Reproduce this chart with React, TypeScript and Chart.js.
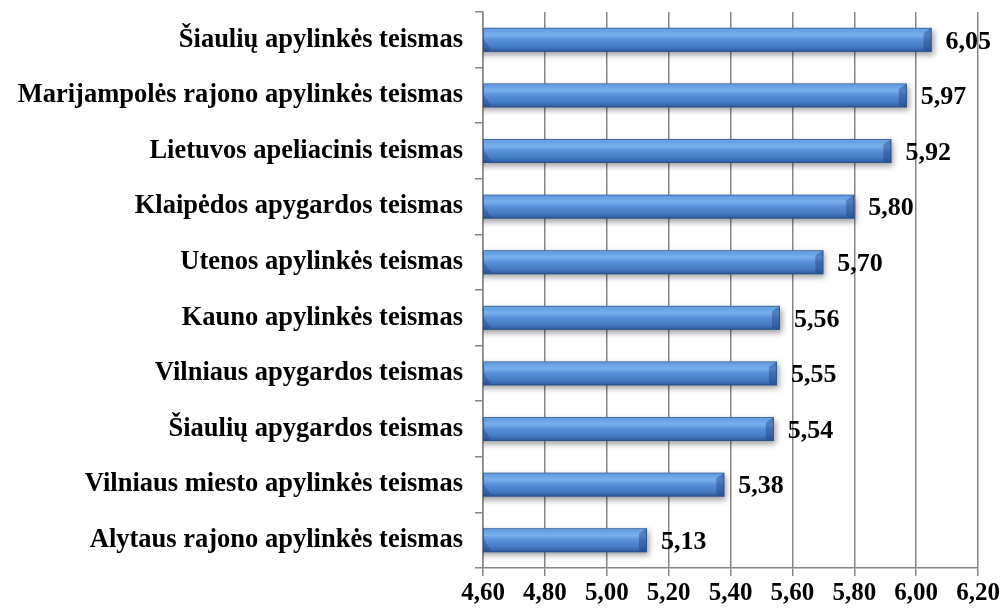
import React, { useEffect, useRef } from "react";
import { Chart, registerables } from "chart.js";

Chart.register(...registerables);

const categories: string[] = [
  "Šiaulių apylinkės teismas",
  "Marijampolės rajono apylinkės teismas",
  "Lietuvos apeliacinis teismas",
  "Klaipėdos apygardos teismas",
  "Utenos apylinkės teismas",
  "Kauno apylinkės teismas",
  "Vilniaus apygardos teismas",
  "Šiaulių apygardos teismas",
  "Vilniaus miesto apylinkės teismas",
  "Alytaus rajono apylinkės teismas",
];

const values: number[] = [6.05, 5.97, 5.92, 5.8, 5.7, 5.56, 5.55, 5.54, 5.38, 5.13];

const xMin = 4.6;
const xMax = 6.2;
const xStep = 0.2;

const FONT = '"Liberation Serif", "Times New Roman", serif';
const fmt = (v: number) => v.toFixed(2).replace(".", ",");

const barStyle = {
  id: "barStyle",
  beforeDatasetDraw(chart: any) {
    const ctx = chart.ctx;
    ctx.save();
    ctx.shadowColor = "rgba(0,0,0,0.38)";
    ctx.shadowBlur = 6;
    ctx.shadowOffsetX = 2;
    ctx.shadowOffsetY = 3;
  },
  afterDatasetDraw(chart: any) {
    const ctx = chart.ctx;
    ctx.restore();
    const meta = chart.getDatasetMeta(0);
    const left = chart.chartArea.left;
    meta.data.forEach((bar: any) => {
      const x0 = Math.max(bar.base, left);
      const x1 = bar.x;
      const y0 = bar.y - bar.height / 2;
      const y1 = bar.y + bar.height / 2;
      const b = 8;
      ctx.save();
      // right bevel
      ctx.beginPath();
      ctx.moveTo(x1, y0);
      ctx.lineTo(x1 - b, y0 + b * 0.7);
      ctx.lineTo(x1 - b, y1 - 2);
      ctx.lineTo(x1, y1);
      ctx.closePath();
      ctx.fillStyle = "rgba(25,60,120,0.4)";
      ctx.fill();
      // left bevel
      ctx.beginPath();
      ctx.moveTo(x0, y0 + bar.height * 0.45);
      ctx.lineTo(x0 + b, y1 - 2);
      ctx.lineTo(x0, y1);
      ctx.closePath();
      ctx.fillStyle = "rgba(25,60,120,0.35)";
      ctx.fill();
      // outline
      ctx.strokeStyle = "rgba(40,80,140,0.8)";
      ctx.lineWidth = 1;
      ctx.strokeRect(x0 + 0.5, y0 + 0.5, x1 - x0 - 1, y1 - y0 - 1);
      ctx.restore();
    });
  },
};

const dataLabels = {
  id: "dataLabels",
  afterDatasetsDraw(chart: any) {
    const ctx = chart.ctx;
    const meta = chart.getDatasetMeta(0);
    ctx.save();
    ctx.font = `bold 26px ${FONT}`;
    ctx.fillStyle = "#000";
    ctx.textAlign = "left";
    ctx.textBaseline = "middle";
    meta.data.forEach((bar: any, i: number) => {
      ctx.fillText(fmt(values[i]), bar.x + 14, bar.y + 2);
    });
    ctx.restore();
  },
};

export default function App() {
  const ref = useRef<HTMLCanvasElement | null>(null);

  useEffect(() => {
    document.body.style.margin = "0";
    if (!ref.current) return;
    const chart = new Chart(ref.current, {
      type: "bar",
      data: {
        labels: categories,
        datasets: [
          {
            data: values,
            backgroundColor: (c: any) => {
              const ch = c.chart;
              const area = ch.chartArea;
              if (!area) return "#4f86cc";
              const yScale = ch.scales.y;
              const cy = yScale.getPixelForValue(c.dataIndex);
              const h = 12;
              const g = ch.ctx.createLinearGradient(0, cy - h, 0, cy + h);
              g.addColorStop(0, "#a8ccf4");
              g.addColorStop(0.08, "#629de4");
              g.addColorStop(0.3, "#7aafec");
              g.addColorStop(0.5, "#5690d8");
              g.addColorStop(0.78, "#457bc3");
              g.addColorStop(0.92, "#3766aa");
              g.addColorStop(1, "#2b558f");
              return g;
            },
            borderWidth: 0,
            categoryPercentage: 1,
            barPercentage: 0.43,
          },
        ],
      },
      options: {
        indexAxis: "y",
        animation: false,
        responsive: true,
        maintainAspectRatio: false,
        devicePixelRatio: 1,
        layout: { padding: { top: 12, right: 26, bottom: 0, left: 0 } },
        plugins: {
          legend: { display: false },
          tooltip: { enabled: false },
        },
        scales: {
          x: {
            min: xMin,
            max: xMax,
            afterFit: (s: any) => {
              s.height = 45;
            },
            ticks: {
              stepSize: xStep,
              callback: (v: any) => fmt(Number(v)),
              font: { family: FONT, weight: "bold", size: 25 },
              color: "#000",
              padding: 3,
              maxRotation: 0,
              autoSkip: false,
            },
            grid: {
              color: "#858585",
              lineWidth: 1.5,
              tickLength: 8,
              drawTicks: true,
            },
            border: { color: "#858585", width: 1.5 },
          },
          y: {
            afterFit: (s: any) => {
              s.width = 483;
              s.paddingTop = 0;
              s.paddingBottom = 0;
            },
            ticks: {
              font: { family: FONT, weight: "bold", size: 26.5 },
              color: "#000",
              padding: 12,
              autoSkip: false,
            },
            grid: {
              drawOnChartArea: false,
              drawTicks: true,
              tickLength: 8,
              color: "#858585",
              lineWidth: 1.5,
              offset: true,
            },
            border: { color: "#858585", width: 1.5 },
          },
        },
      } as any,
      plugins: [barStyle, dataLabels],
    });
    return () => chart.destroy();
  }, []);

  return (
    <div style={{ position: "absolute", left: 0, top: 0, width: 1004, height: 613 }}>
      <canvas ref={ref} />
    </div>
  );
}
